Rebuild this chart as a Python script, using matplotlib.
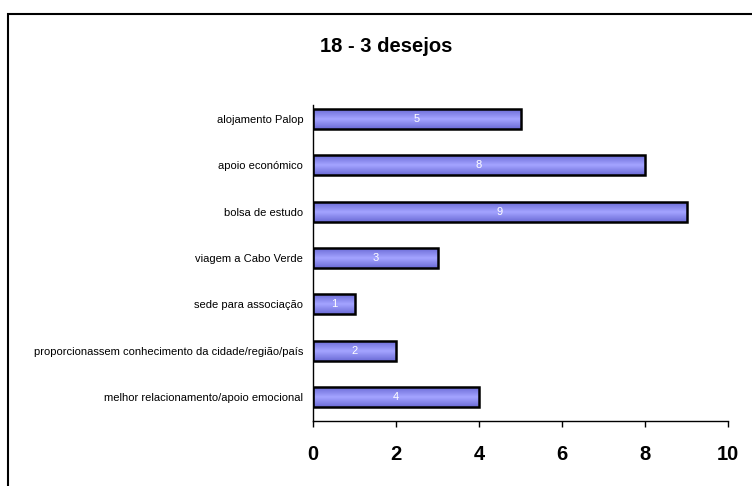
import matplotlib
matplotlib.use("Agg")
import matplotlib.pyplot as plt
import numpy as np
from matplotlib.patches import Rectangle

categorias = [
    "melhor relacionamento/apoio emocional",
    "proporcionassem conhecimento da cidade/região/país",
    "sede para associação",
    "viagem a Cabo Verde",
    "bolsa de estudo",
    "apoio económico",
    "alojamento Palop",
]
valores = [4, 2, 1, 3, 9, 8, 5]
ticks_x = [0, 2, 4, 6, 8, 10]

plt.rcParams["font.family"] = ["Liberation Sans", "DejaVu Sans"]

W, H = 752, 486
fig = plt.figure(figsize=(W / 100, H / 100), dpi=100)

# moldura do gráfico (só topo e esquerda ficam visíveis)
fig.patches.append(Rectangle((8 / W, -0.1), 1.2, 1 - 14 / H + 0.1,
                             transform=fig.transFigure, fill=False,
                             edgecolor="black", linewidth=1.5))

ax = fig.add_axes([313 / W, 1 - 421 / H, (728 - 313) / W, (421 - 105) / H])

y = np.arange(len(categorias))
altura = 0.43
barras = ax.barh(y, valores, height=altura, color="#9999FF",
                 edgecolor="none", zorder=2)

# degradê nas barras
grad = np.linspace(0, 1, 50)
grad = 1 - np.abs(grad - 0.5) * 2
cmap = matplotlib.colors.LinearSegmentedColormap.from_list("g", ["#6B6BD6", "#A3A3FF"])
for b in barras:
    x0, y0 = b.get_x(), b.get_y()
    w, h = b.get_width(), b.get_height()
    im = ax.imshow(grad.reshape(-1, 1), cmap=cmap, aspect="auto",
                   extent=[x0, x0 + w, y0, y0 + h], zorder=2.5,
                   interpolation="bilinear")
    im.set_clip_path(b)

ax.barh(y, valores, height=altura, fill=False, edgecolor="black",
        linewidth=1.8, zorder=3)

for yi, v in zip(y, valores):
    ax.text(v / 2, yi, str(v), color="white", ha="center", va="center",
            fontsize=8, zorder=4)

ax.set_xlim(0, 10)
ax.set_ylim(-0.52, 6.3)
ax.set_yticks(y)
ax.set_yticklabels(categorias, fontsize=8)
ax.set_xticks(ticks_x)
ax.set_xticklabels([str(t) for t in ticks_x], fontsize=14.5, fontweight="bold")
ax.tick_params(axis="y", length=0, pad=7)
ax.tick_params(axis="x", length=4, width=1, direction="out", pad=13)
for s in ["top", "right"]:
    ax.spines[s].set_visible(False)
ax.spines["left"].set_linewidth(1)
ax.spines["bottom"].set_linewidth(1)
ax.set_facecolor("white")

fig.text(386 / W, 1 - 46 / H, "18 - 3 desejos", ha="center", va="center",
         fontsize=14.5, fontweight="bold")

fig.savefig("out.png", dpi=100)
